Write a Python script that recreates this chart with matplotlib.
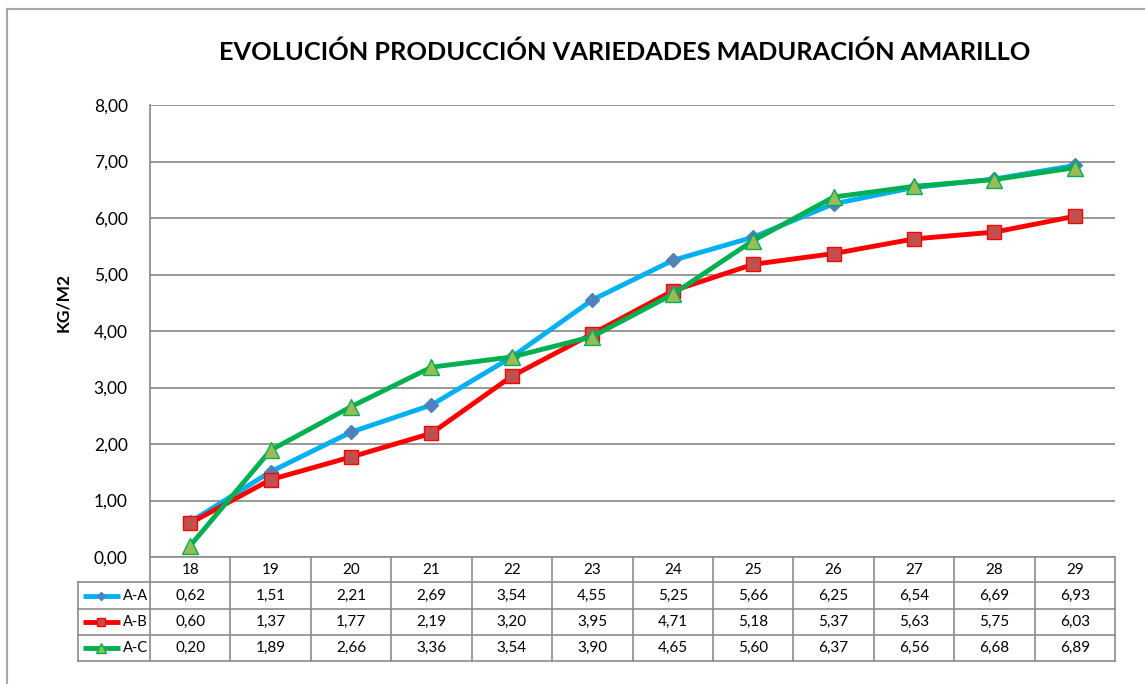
import matplotlib
matplotlib.use("Agg")
import matplotlib.pyplot as plt
from matplotlib.lines import Line2D
from matplotlib.transforms import blended_transform_factory

categories = ["18", "19", "20", "21", "22", "23", "24", "25", "26", "27", "28", "29"]
series_names = ["A-A", "A-B", "A-C"]
aa = [0.62, 1.51, 2.21, 2.69, 3.54, 4.55, 5.25, 5.66, 6.25, 6.54, 6.69, 6.93]
ab = [0.60, 1.37, 1.77, 2.19, 3.20, 3.95, 4.71, 5.18, 5.37, 5.63, 5.75, 6.03]
ac = [0.20, 1.89, 2.66, 3.36, 3.54, 3.90, 4.65, 5.60, 6.37, 6.56, 6.68, 6.89]
yticks = [0, 1, 2, 3, 4, 5, 6, 7, 8]
title = "EVOLUCIÓN PRODUCCIÓN VARIEDADES MADURACIÓN AMARILLO"
ylabel = "KG/M2"

plt.rcParams['font.family'] = ['Lato', 'DejaVu Sans']

W, H = 1145, 684
fig = plt.figure(figsize=(W / 100, H / 100), dpi=100)

def fx(px):
    return px / W

def fy(py):
    return 1 - py / H

# plot area in pixels
L, R, T, B = 150, 1115, 105, 557
ax = fig.add_axes([fx(L), fy(B), (R - L) / W, (B - T) / H])

styles = [
    dict(color="#00B0F0", marker="D", markersize=7, markerfacecolor="#4F81BD", markeredgecolor="#4F81BD"),
    dict(color="#FF0000", marker="s", markersize=10, markerfacecolor="#C0504D", markeredgecolor="#FF0000"),
    dict(color="#00B050", marker="^", markersize=11, markerfacecolor="#9BBB59", markeredgecolor="#00B050"),
]
data = [aa, ab, ac]
x = list(range(len(categories)))
for vals, st in zip(data, styles):
    ax.plot(x, vals, linewidth=3.5, zorder=3, clip_on=False, **st)

ax.set_xlim(-0.5, len(categories) - 0.5)
ax.set_ylim(0, 8)
ax.set_yticks(yticks)
ax.set_yticklabels([f"{v:.2f}".replace(".", ",") for v in yticks], fontsize=12.5)
ax.tick_params(axis="y", length=0, pad=16)
ax.set_xticks([])
ax.grid(axis="y", color="#868686", linewidth=1.2)
ax.set_axisbelow(True)
for s in ["top", "right", "bottom"]:
    ax.spines[s].set_visible(False)
ax.spines["left"].set_color("#868686")
ax.spines["left"].set_linewidth(1.2)

fig.text(fx(625), fy(52), title, ha="center", va="center", fontsize=18.3, fontweight="bold")
fig.text(fx(63), fy(302), ylabel, ha="center", va="center", rotation=90, fontsize=12.5, fontweight="bold")

# outer chart frame
fig.add_artist(Line2D([fx(7), fx(7)], [fy(9), fy(684)], color="#A6A6A6", linewidth=1.5))
fig.add_artist(Line2D([fx(7), fx(1145)], [fy(9), fy(9)], color="#A6A6A6", linewidth=1.5))

# data table below the plot
tr = blended_transform_factory(ax.transData, fig.transFigure)
gc = "#8C8C8C"
row_edges = [557, 582, 609, 635, 661]
lab_left = -0.5 - (L - 78) / ((R - L) / len(categories))
n = len(categories)
ax_fig = dict(transform=tr, color=gc, linewidth=1.2, clip_on=False)
fig.add_artist(Line2D([-0.5, n - 0.5], [fy(row_edges[0])] * 2, **ax_fig))
for py in row_edges[1:]:
    fig.add_artist(Line2D([lab_left, n - 0.5], [fy(py)] * 2, **ax_fig))
for i in range(n + 1):
    fig.add_artist(Line2D([i - 0.5, i - 0.5], [fy(row_edges[0]), fy(row_edges[-1])], **ax_fig))
fig.add_artist(Line2D([lab_left, lab_left], [fy(row_edges[1]), fy(row_edges[-1])], **ax_fig))

hy = (row_edges[0] + row_edges[1]) / 2
for i, c in enumerate(categories):
    fig.text(i, fy(hy), c, transform=tr, ha="center", va="center", fontsize=11)
for r, (name, vals, st) in enumerate(zip(series_names, data, styles)):
    cy = fy((row_edges[r + 1] + row_edges[r + 2]) / 2)
    for i, v in enumerate(vals):
        fig.text(i, cy, f"{v:.2f}".replace(".", ","), transform=tr, ha="center", va="center", fontsize=11)
    ms = st["markersize"] * 0.6
    key = Line2D([fx(83), fx(120)], [cy, cy], linewidth=3.5, color=st["color"], solid_capstyle="butt")
    fig.add_artist(key)
    fig.add_artist(Line2D([fx(101)], [cy], marker=st["marker"], markersize=ms,
                          markerfacecolor=st["markerfacecolor"], markeredgecolor=st["markeredgecolor"],
                          linestyle="none"))
    fig.text(fx(123), cy, name, ha="left", va="center", fontsize=10.5)

fig.savefig("out.png", dpi=100)
